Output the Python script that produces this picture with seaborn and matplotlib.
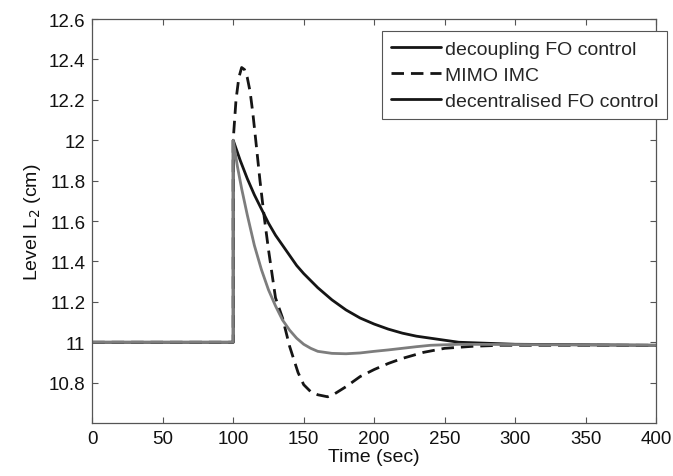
import matplotlib
matplotlib.use("Agg")
import matplotlib.pyplot as plt
import pandas as pd
import seaborn as sns

# decoupling FO control
t_decoup = [0, 100, 100, 105, 110, 115, 120, 125, 130, 135, 140, 145, 150, 160, 170, 180, 190,
            200, 210, 220, 230, 240, 250, 260, 280, 300, 400]
y_decoup = [11.0, 11.0, 12.0, 11.9, 11.81, 11.73, 11.66, 11.59, 11.53, 11.48, 11.43, 11.38,
            11.34, 11.27, 11.21, 11.16, 11.12, 11.09, 11.065, 11.045, 11.03, 11.02, 11.01,
            11.0, 10.995, 10.99, 10.985]

# MIMO IMC
t_imc = [0, 100, 100, 102, 104, 106, 108, 110, 112, 114, 116, 119, 122, 125, 130, 135, 140,
         146, 150, 155, 160, 167, 172, 180, 190, 200, 210, 220, 235, 250, 270, 290, 400]
y_imc = [11.0, 11.0, 12.0, 12.2, 12.31, 12.36, 12.35, 12.31, 12.24, 12.13, 12.0, 11.8, 11.62,
         11.46, 11.22, 11.12, 10.98, 10.85, 10.79, 10.755, 10.74, 10.73, 10.745, 10.78, 10.83,
         10.865, 10.895, 10.92, 10.95, 10.97, 10.98, 10.985, 10.985]

# decentralised FO control
t_dec = [0, 100, 100, 103, 106, 110, 115, 120, 125, 130, 135, 140, 145, 150, 155, 160, 170,
         180, 190, 200, 210, 220, 230, 240, 260, 400]
y_dec = [11.0, 11.0, 12.0, 11.87, 11.76, 11.63, 11.48, 11.36, 11.26, 11.18, 11.11, 11.06,
         11.02, 10.99, 10.97, 10.955, 10.945, 10.943, 10.947, 10.955, 10.962, 10.97, 10.978,
         10.985, 10.99, 10.985]

x_ticks = [0, 50, 100, 150, 200, 250, 300, 350, 400]
y_ticks = [10.8, 11.0, 11.2, 11.4, 11.6, 11.8, 12.0, 12.2, 12.4, 12.6]
y_tick_labels = ["10.8", "11", "11.2", "11.4", "11.6", "11.8", "12", "12.2", "12.4", "12.6"]

sns.set_style("ticks")
plt.rcParams["font.family"] = ["Liberation Sans", "DejaVu Sans"]

fig = plt.figure(figsize=(6.73, 4.77), dpi=100)
ax = fig.add_axes([0.137, 0.111, 0.838, 0.847])

dec = pd.DataFrame({"t": t_dec, "y": y_dec})
decoup = pd.DataFrame({"t": t_decoup, "y": y_decoup})
imc = pd.DataFrame({"t": t_imc, "y": y_imc})

sns.lineplot(data=decoup, x="t", y="y", ax=ax, sort=False, estimator=None,
             color="#151515", linewidth=2.0, label="decoupling FO control")
sns.lineplot(data=imc, x="t", y="y", ax=ax, sort=False, estimator=None,
             color="#151515", linewidth=2.0, label="MIMO IMC")
ax.lines[-1].set_dashes([4.5, 2.5])
sns.lineplot(data=dec, x="t", y="y", ax=ax, sort=False, estimator=None,
             color="#7d7d7d", linewidth=2.0, label="decentralised FO control")

ax.set_xlim(0, 400)
ax.set_ylim(10.6, 12.6)
ax.set_xticks(x_ticks)
ax.set_yticks(y_ticks)
ax.set_yticklabels(y_tick_labels)
ax.tick_params(direction="in", length=4, width=0.8, labelsize=13.5, colors="#555555",
               labelcolor="#111111", top=True, right=True, pad=5)
for side in ax.spines.values():
    side.set_color("#555555")
    side.set_linewidth(0.9)

ax.set_xlabel("Time (sec)", fontsize=14, labelpad=1, color="#111111")
ax.set_ylabel("Level L$_2$ (cm)", fontsize=14, labelpad=4, color="#111111")

leg = ax.legend(loc="upper right", bbox_to_anchor=(1.02, 0.97), borderaxespad=0,
                fontsize=14, frameon=True, fancybox=False, framealpha=1,
                edgecolor="#555555", borderpad=0.45, labelspacing=0.45,
                handlelength=2.6, handletextpad=0.2)
leg.get_frame().set_linewidth(0.8)
for line in leg.get_lines():
    line.set_color("#151515")

fig.savefig("out.png", dpi=100)
